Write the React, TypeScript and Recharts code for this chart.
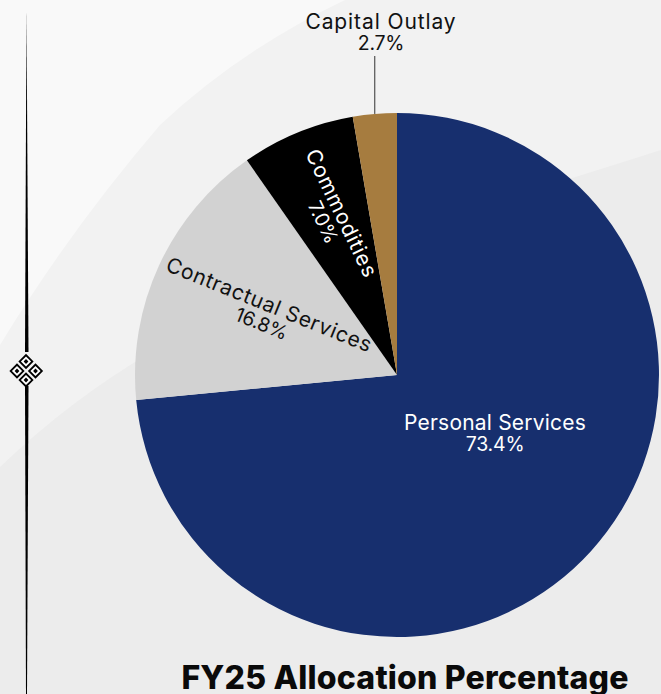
import React from "react";
import { PieChart, Pie, Cell } from "recharts";

const categories = ["Personal Services", "Contractual Services", "Commodities", "Capital Outlay"];
const values = [73.4, 16.8, 7.0, 2.7];
const percentLabels = ["73.4%", "16.8%", "7.0%", "2.7%"];
const colors = ["#172F6E", "#D2D2D2", "#000000", "#A67C3F"];
const textColors = ["#ffffff", "#111111", "#ffffff", "#111111"];
const nameSpacing = [0.2, 0.65, 0.8, 0.9];
const title = "FY25 Allocation Percentage";

const data = categories.map((name, i) => ({ name, value: values[i], pct: percentLabels[i] }));
const FONT = "Inter, 'Open Sans', sans-serif";
const RAD = Math.PI / 180;

function SliceLabel(props: any) {
  const { cx, cy, outerRadius, midAngle, index } = props;
  const pt = (r: number) => ({ x: cx + r * Math.cos(-midAngle * RAD), y: cy + r * Math.sin(-midAngle * RAD) });
  const fill = textColors[index];
  const name = categories[index];
  const pct = percentLabels[index];
  const nameStyle = { fontFamily: FONT, fontSize: 21, fill, textAnchor: "middle" as const, letterSpacing: nameSpacing[index] };
  const pctStyle = { fontFamily: FONT, fontSize: 19.5, fontWeight: 400, fill, textAnchor: "middle" as const, letterSpacing: -0.2 };

  if (index === 3) {
    const a = pt(outerRadius);
    return (
      <g>
        <line x1={a.x} y1={a.y} x2={a.x} y2={56} stroke="#333" strokeWidth={1} />
        <text {...nameStyle} x={381} y={28.5}>{name}</text>
        <text {...pctStyle} x={381} y={50}>{pct}</text>
      </g>
    );
  }
  if (index === 0) {
    return (
      <g>
        <text {...nameStyle} x={495} y={430}>{name}</text>
        <text {...pctStyle} x={495} y={451}>{pct}</text>
      </g>
    );
  }
  const r = index === 1 ? 145 : 170;
  const c = pt(r);
  const rot = index === 1 ? 22 : 64.5;
  return (
    <g transform={`translate(${c.x},${c.y}) rotate(${rot})`}>
      <text {...nameStyle} x={0} y={-3}>{name}</text>
      <text {...pctStyle} x={0} y={17}>{pct}</text>
    </g>
  );
}

const diamonds = [[26, 361.5], [17, 371], [35.5, 371], [26, 380]];

export default function App() {
  return (
    <div style={{ position: "fixed", left: 0, top: 0, width: 661, height: 694, overflow: "hidden", background: "#ececec" }}>
      <svg width={661} height={694} style={{ position: "absolute", left: 0, top: 0 }}>
        <path d="M 0 467 Q 70 400 150 353 L 400 230 Q 520 195 661 150 L 661 0 L 0 0 Z" fill="#f2f2f2" />
        <path d="M 0 345 Q 70 230 160 125 Q 240 50 345 0 L 0 0 Z" fill="#f9f9f9" />
        <polygon points="26.5,8 28.5,352 25,352" fill="#000" />
        <polygon points="25,386 28.5,386 27,694 26,694" fill="#000" />
        {diamonds.map(([x, y], i) => (
          <g key={i}>
            <rect x={x - 4.5} y={y - 4.5} width={9} height={9} transform={`rotate(45 ${x} ${y})`} fill="#fff" stroke="#000" strokeWidth={1.8} />
            <rect x={x - 1.7} y={y - 1.7} width={3.4} height={3.4} transform={`rotate(45 ${x} ${y})`} fill="#000" />
          </g>
        ))}
      </svg>
      <div style={{ position: "absolute", left: 0, top: 0 }}>
        <PieChart width={661} height={694} margin={{ top: 0, right: 0, bottom: 0, left: 0 }}>
          <Pie
            data={data}
            dataKey="value"
            nameKey="name"
            cx={397}
            cy={375}
            outerRadius={262}
            startAngle={90}
            endAngle={-270}
            stroke="none"
            isAnimationActive={false}
            labelLine={false}
            label={SliceLabel}
          >
            {data.map((d, i) => (
              <Cell key={d.name} fill={colors[i]} />
            ))}
          </Pie>
        </PieChart>
      </div>
      <div style={{ position: "absolute", left: 405, top: 658, transform: "translateX(-50%)", whiteSpace: "nowrap", fontFamily: FONT, fontWeight: 800, fontSize: 32, letterSpacing: 0.2, lineHeight: "40px", color: "#0a0a0a" }}>
        {title}
      </div>
    </div>
  );
}
